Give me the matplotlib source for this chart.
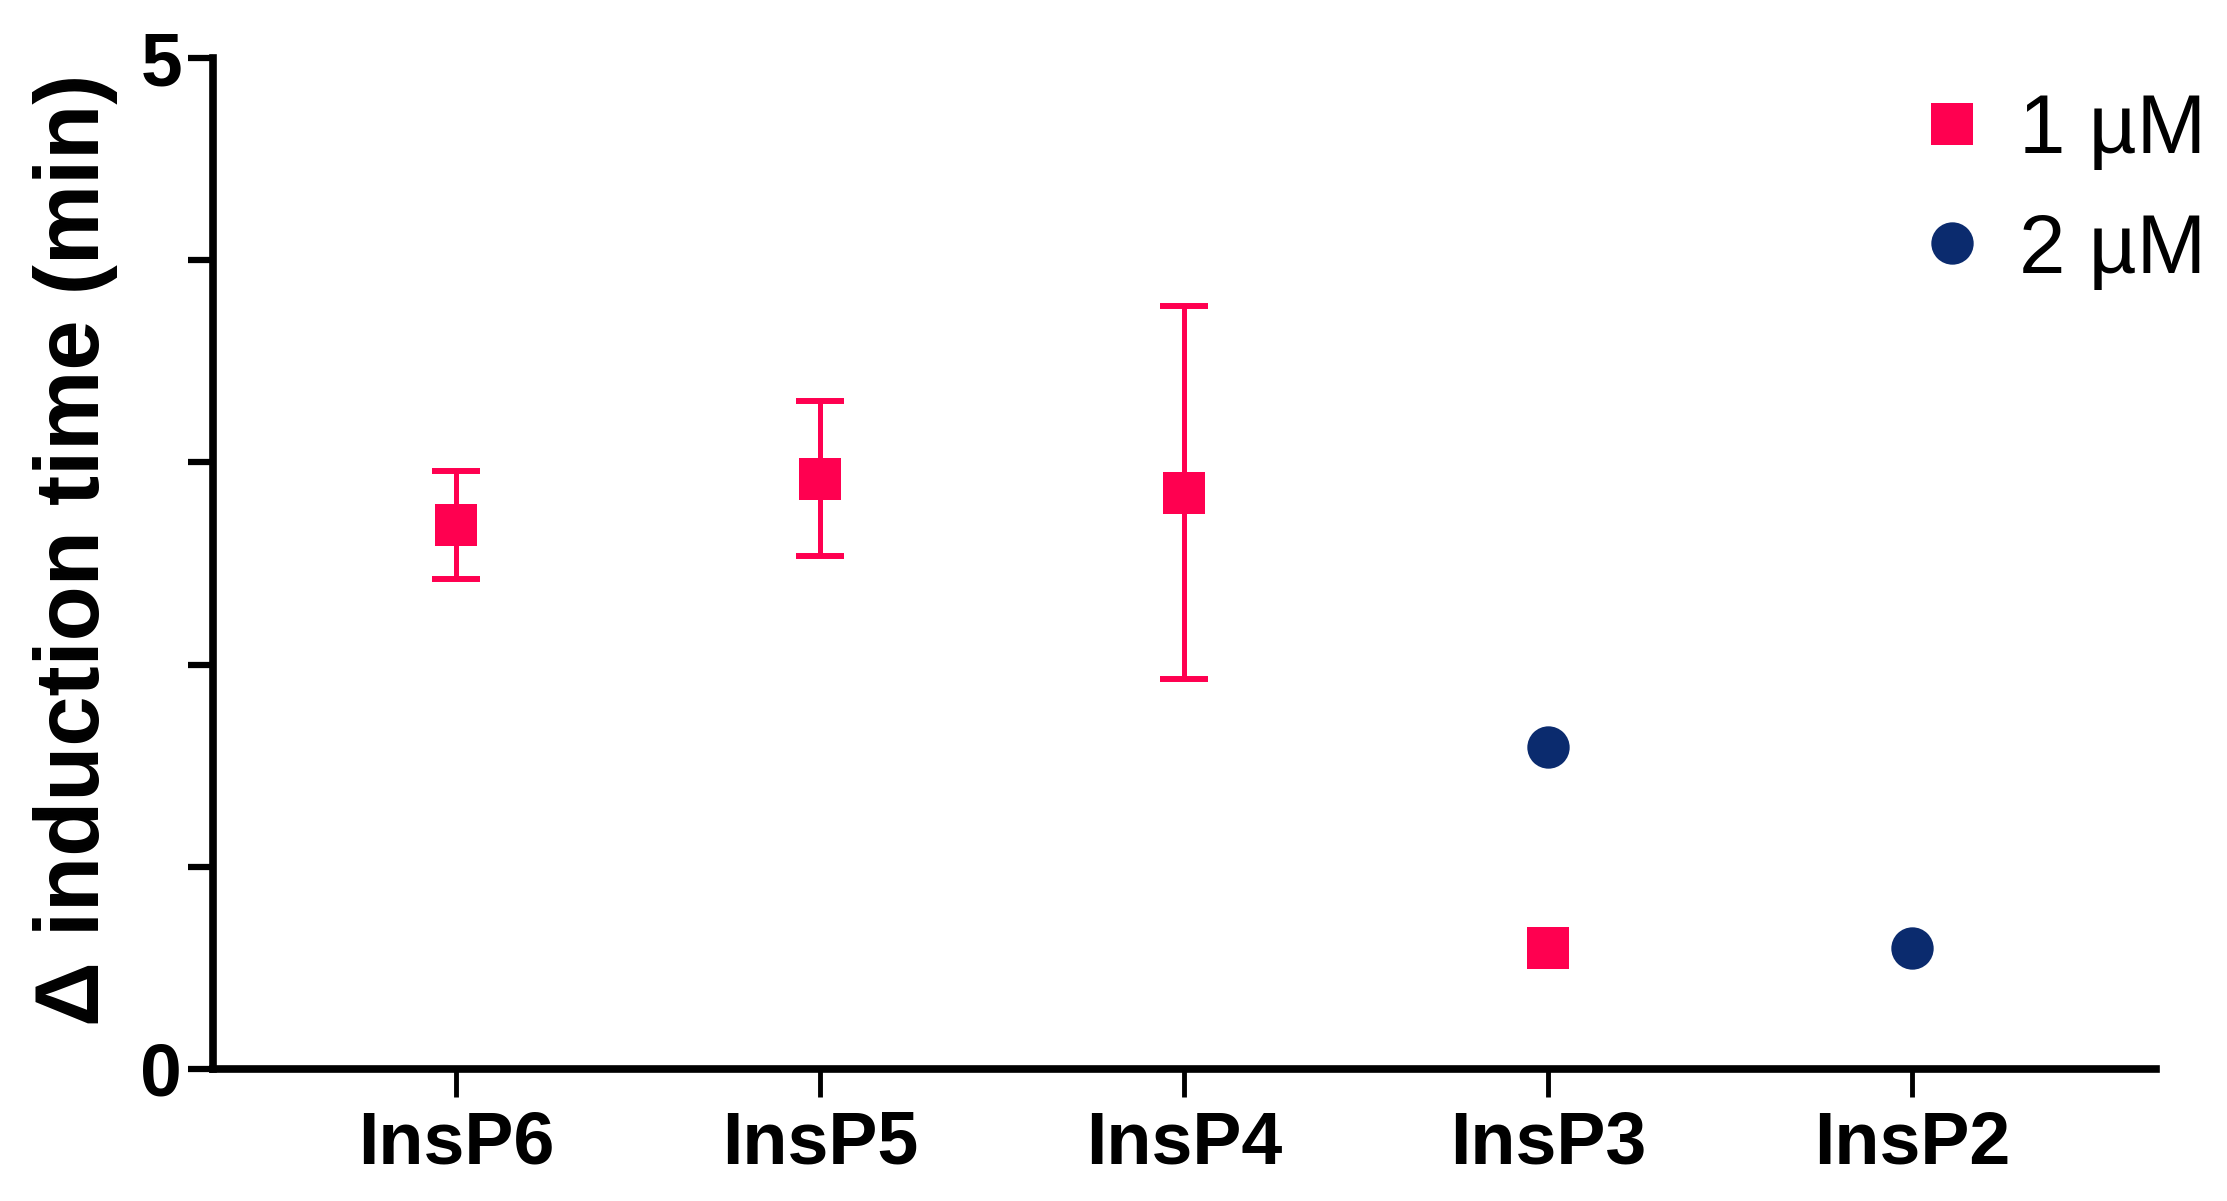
import numpy as np
import matplotlib
matplotlib.use("Agg")
import matplotlib.pyplot as plt

# ---- data ----
categories = ["InsP6", "InsP5", "InsP4", "InsP3", "InsP2"]
mean_1uM = [2.69, 2.92, 2.85, 0.60, np.nan]
err_1uM = [0.265, 0.383, 0.923, 0.0, 0.0]
mean_2uM = [np.nan, np.nan, np.nan, 1.59, 0.60]
series_labels = ["1 \u00b5M", "2 \u00b5M"]
y_ticks_major = [0, 5]
y_ticks_minor = [1, 2, 3, 4]
ylabel = "\u0394 induction time (min)"

pink = "#FF0050"
navy = "#0B2B6E"

plt.rcParams['font.family'] = ['Liberation Sans', 'DejaVu Sans']

fig = plt.figure(figsize=(22.27, 12.01), dpi=100)
ax = fig.add_axes([0.0956, 0.110, 0.968 - 0.0956, 0.9517 - 0.110])

x = np.arange(len(categories))
m1 = np.array(mean_1uM, dtype=float)
e1 = np.array(err_1uM, dtype=float)
m2 = np.array(mean_2uM, dtype=float)

has_err = (~np.isnan(m1)) & (e1 > 0)
ax.errorbar(x[has_err], m1[has_err], yerr=e1[has_err], fmt='none',
            ecolor=pink, elinewidth=3.6, capsize=17.5, capthick=4.3, zorder=2)
h1, = ax.plot(x, m1, linestyle='none', marker='s', markersize=30.5,
              color=pink, markeredgewidth=0, zorder=3)
h2, = ax.plot(x, m2, linestyle='none', marker='o', markersize=30.5,
              color=navy, markeredgewidth=0, zorder=3)

ax.set_xlim(-0.668, 4.670)
ax.set_ylim(0, 5)
ax.set_xticks(x)
ax.set_xticklabels(categories, fontsize=53, fontweight='bold')
ax.set_yticks(y_ticks_major)
ax.set_yticklabels([str(v) for v in y_ticks_major], fontsize=54, fontweight='bold')
ax.set_yticks(y_ticks_minor, minor=True)

for s in ['top', 'right']:
    ax.spines[s].set_visible(False)
for s in ['left', 'bottom']:
    ax.spines[s].set_linewidth(5.5)

ax.tick_params(axis='y', which='both', direction='out', length=18, width=4.5, pad=4)
ax.tick_params(axis='x', which='major', direction='out', length=20, width=3.5, pad=9)

ax.set_ylabel(ylabel, fontsize=65, fontweight='bold')
ax.yaxis.set_label_coords(-0.049, 0.513)

fig.legend(handles=[h1, h2], labels=series_labels, loc='upper left',
           bbox_to_anchor=(0.8653, 0.9234), bbox_transform=fig.transFigure,
           frameon=False, fontsize=60, handlelength=0.6, handletextpad=0.5,
           labelspacing=0.5, borderpad=0, borderaxespad=0, markerscale=1.0)

fig.savefig("out.png", dpi=100)
